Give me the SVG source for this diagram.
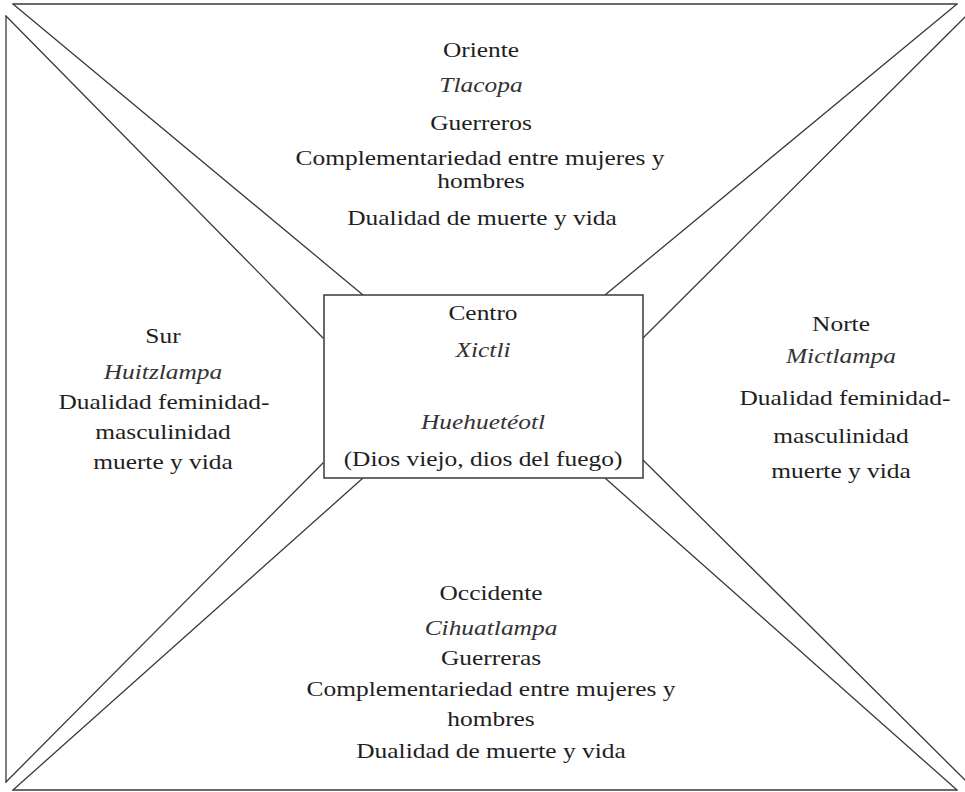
<svg xmlns="http://www.w3.org/2000/svg" width="965" height="792" viewBox="0 0 965 792">
<style>
.ln{stroke:#3a3a3a;stroke-width:1.3;fill:none;stroke-linecap:round}
.box{stroke:#3a3a3a;stroke-width:1.5;fill:#fff}
text{font-family:"Liberation Serif","Times New Roman",serif;font-size:20.5px;fill:#1e1e1e;text-anchor:middle}
.it{font-style:italic;fill:#333}
</style>
<rect width="965" height="792" fill="#fff"/>
<g id="frame">
<line class="ln" x1="13" y1="4" x2="957" y2="4"/>
<line class="ln" x1="6" y1="16" x2="6" y2="782"/>
<line class="ln" x1="13" y1="790" x2="957" y2="790"/>
</g>
<g id="connectors">
<line class="ln" x1="13" y1="4" x2="363" y2="295"/>
<line class="ln" x1="6" y1="16" x2="323" y2="338"/>
<line class="ln" x1="957" y1="4" x2="605" y2="295"/>
<line class="ln" x1="965" y1="17" x2="643" y2="338"/>
<line class="ln" x1="323" y1="463" x2="6" y2="782"/>
<line class="ln" x1="363" y1="478" x2="13" y2="790"/>
<line class="ln" x1="643" y1="460" x2="965" y2="780"/>
<line class="ln" x1="605" y1="478" x2="957" y2="790"/>
</g>
<g id="centro">
<rect class="box" x="324" y="295" width="319" height="183"/>
<text transform="translate(483,320) scale(1.24,1)">Centro</text>
<text class="it" transform="translate(483,357) scale(1.24,1)">Xictli</text>
<text class="it" transform="translate(483,429) scale(1.24,1)">Huehuetéotl</text>
<text transform="translate(483,466) scale(1.24,1)">(Dios viejo, dios del fuego)</text>
</g>
<g id="oriente">
<text transform="translate(481,57) scale(1.24,1)">Oriente</text>
<text class="it" transform="translate(481,92) scale(1.24,1)">Tlacopa</text>
<text transform="translate(481,130) scale(1.24,1)">Guerreros</text>
<text transform="translate(480,165) scale(1.24,1)">Complementariedad entre mujeres y</text>
<text transform="translate(481,188) scale(1.24,1)">hombres</text>
<text transform="translate(482,225) scale(1.24,1)">Dualidad de muerte y vida</text>
</g>
<g id="sur">
<text transform="translate(163,343) scale(1.24,1)">Sur</text>
<text class="it" transform="translate(163,379) scale(1.24,1)">Huitzlampa</text>
<text transform="translate(164,409) scale(1.24,1)">Dualidad feminidad-</text>
<text transform="translate(163,439) scale(1.24,1)">masculinidad</text>
<text transform="translate(163,469) scale(1.24,1)">muerte y vida</text>
</g>
<g id="norte">
<text transform="translate(841,331) scale(1.24,1)">Norte</text>
<text class="it" transform="translate(841,363) scale(1.24,1)">Mictlampa</text>
<text transform="translate(845,405) scale(1.24,1)">Dualidad feminidad-</text>
<text transform="translate(841,443) scale(1.24,1)">masculinidad</text>
<text transform="translate(841,478) scale(1.24,1)">muerte y vida</text>
</g>
<g id="occidente">
<text transform="translate(491,600) scale(1.24,1)">Occidente</text>
<text class="it" transform="translate(491,635) scale(1.24,1)">Cihuatlampa</text>
<text transform="translate(491,665) scale(1.24,1)">Guerreras</text>
<text transform="translate(491,696) scale(1.24,1)">Complementariedad entre mujeres y</text>
<text transform="translate(491,726) scale(1.24,1)">hombres</text>
<text transform="translate(491,758) scale(1.24,1)">Dualidad de muerte y vida</text>
</g>
</svg>
